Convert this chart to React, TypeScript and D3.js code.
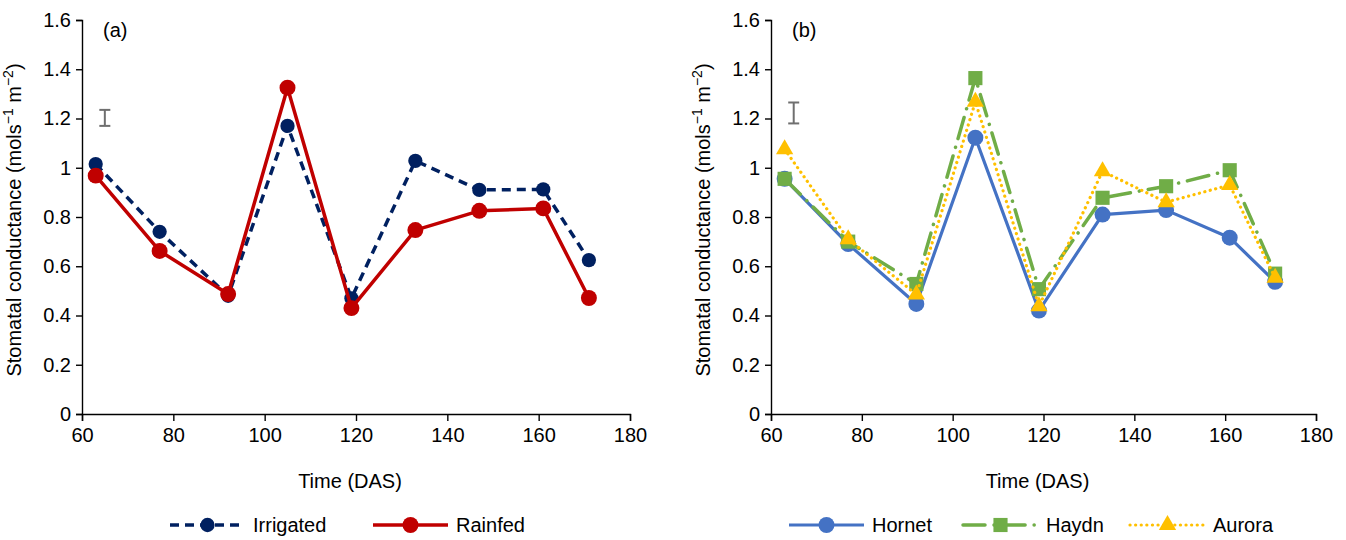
import React, { useEffect, useRef } from 'react';
import * as d3 from 'd3';

// Days after sowing (DAS) at which conductance was measured
const das = [63, 77, 92, 105, 119, 133, 147, 161, 171];

// Panel (a): water treatment
const irrigated = [1.015, 0.74, 0.48, 1.17, 0.47, 1.028, 0.91, 0.912, 0.625];
const rainfed = [0.968, 0.662, 0.487, 1.325, 0.43, 0.747, 0.825, 0.835, 0.471];

// Panel (b): cultivars
const hornet = [0.955, 0.69, 0.447, 1.122, 0.42, 0.81, 0.828, 0.716, 0.537];
const haydn = [0.955, 0.7, 0.528, 1.364, 0.507, 0.878, 0.925, 0.99, 0.57];
const aurora = [1.075, 0.71, 0.485, 1.268, 0.438, 0.986, 0.86, 0.93, 0.553];

// LSD-style error bars shown in the top-left of each panel
const errA = { x: 65, lo: 1.17, hi: 1.235 };
const errB = { x: 65, lo: 1.18, hi: 1.265 };

const xTicks = [60, 80, 100, 120, 140, 160, 180];
const yTicks = [0, 0.2, 0.4, 0.6, 0.8, 1, 1.2, 1.4, 1.6];
const yTickLabels = ['0', '0.2', '0.4', '0.6', '0.8', '1', '1.2', '1.4', '1.6'];

const W = 1346;
const H = 540;
const FONT = '"Liberation Sans", Arial, Helvetica, sans-serif';
const FS = '20px';

const App = () => {
  const svgRef = useRef(null);

  useEffect(() => {
    const svg = d3.select(svgRef.current);
    svg.selectAll('*').remove();

    const y = d3.scaleLinear().domain([0, 1.6]).range([414, 20]);

    const drawPanel = (x0, x1, label, err, series, legendXs) => {
      const x = d3.scaleLinear().domain([60, 180]).range([x0, x1]);
      const g = svg.append('g');

      // y axis
      const ya = g.append('g')
        .attr('transform', `translate(${x0},0)`)
        .call(d3.axisLeft(y).tickValues(yTicks).tickSize(6).tickPadding(5)
          .tickFormat((d, i) => yTickLabels[i]));
      // x axis
      const xa = g.append('g')
        .attr('transform', `translate(0,${y(0)})`)
        .call(d3.axisBottom(x).tickValues(xTicks).tickSize(7).tickPadding(7));

      [ya, xa].forEach(a => {
        a.selectAll('path, line').attr('stroke', '#000').attr('stroke-width', 1.4);
        a.selectAll('text')
          .style('font-family', FONT)
          .style('font-size', FS)
          .attr('fill', '#000');
      });

      // panel label
      g.append('text')
        .attr('x', x0 + 21)
        .attr('y', 37)
        .style('font-family', FONT)
        .style('font-size', FS)
        .text(label);

      // x title
      g.append('text')
        .attr('x', (x0 + x1) / 2 - 6)
        .attr('y', 488)
        .attr('text-anchor', 'middle')
        .style('font-family', FONT)
        .style('font-size', FS)
        .text('Time (DAS)');

      // y title with superscripts
      const yt = g.append('text')
        .attr('transform', `translate(${x0 - 61},${(y(0) + y(1.6)) / 2 + 3}) rotate(-90)`)
        .attr('text-anchor', 'middle')
        .style('font-family', FONT)
        .style('font-size', FS);
      yt.append('tspan').text('Stomatal conductance (mols');
      yt.append('tspan').attr('dy', -8).style('font-size', '14px').text('\u22121');
      yt.append('tspan').attr('dy', 8).text(' m');
      yt.append('tspan').attr('dy', -8).style('font-size', '14px').text('\u22122');
      yt.append('tspan').attr('dy', 8).text(')');

      // error bar
      const ex = x(err.x);
      const eg = g.append('g').attr('stroke', '#6f6f6f').attr('stroke-width', 2);
      eg.append('line').attr('x1', ex).attr('x2', ex).attr('y1', y(err.lo)).attr('y2', y(err.hi));
      eg.append('line').attr('x1', ex - 5.5).attr('x2', ex + 5.5).attr('y1', y(err.lo)).attr('y2', y(err.lo));
      eg.append('line').attr('x1', ex - 5.5).attr('x2', ex + 5.5).attr('y1', y(err.hi)).attr('y2', y(err.hi));

      const line = d3.line().x(d => x(d[0])).y(d => y(d[1]));

      const drawMarker = (sel, s, cx, cy) => sel.append('path')
        .attr('d', d3.symbol().type(s.marker).size(s.size)())
        .attr('transform', `translate(${cx},${cy})`)
        .attr('fill', s.color);

      series.forEach(s => {
        const pts = das.map((d, i) => [d, s.values[i]]);
        g.append('path')
          .datum(pts)
          .attr('d', line)
          .attr('fill', 'none')
          .attr('stroke', s.color)
          .attr('stroke-width', s.width)
          .attr('stroke-dasharray', s.dash)
          .attr('stroke-linecap', s.cap)
          .attr('stroke-linejoin', 'round');
        pts.forEach(p => drawMarker(g, s, x(p[0]), y(p[1])));
      });

      // legend
      series.forEach((s, i) => {
        const lx = legendXs[i];
        const ly = 525;
        g.append('line')
          .attr('x1', lx).attr('x2', lx + 75)
          .attr('y1', ly).attr('y2', ly)
          .attr('stroke', s.color)
          .attr('stroke-width', s.width)
          .attr('stroke-dasharray', s.dash)
          .attr('stroke-linecap', s.cap);
        drawMarker(g, s, lx + 37.5, ly);
        g.append('text')
          .attr('x', lx + 83)
          .attr('y', ly + 7)
          .style('font-family', FONT)
          .style('font-size', FS)
          .text(s.name);
      });
    };

    drawPanel(82, 630, '(a)', errA, [
      { name: 'Irrigated', values: irrigated, color: '#002060', width: 3.5, dash: '9,6', cap: 'butt', marker: d3.symbolCircle, size: 160 },
      { name: 'Rainfed', values: rainfed, color: '#C00000', width: 3.5, dash: null, cap: 'butt', marker: d3.symbolCircle, size: 200 },
    ], [170, 373]);

    drawPanel(771, 1316, '(b)', errB, [
      { name: 'Hornet', values: hornet, color: '#4472C4', width: 3.2, dash: null, cap: 'butt', marker: d3.symbolCircle, size: 200 },
      { name: 'Haydn', values: haydn, color: '#70AD47', width: 3.5, dash: '22,9,0.1,9', cap: 'round', marker: d3.symbolSquare, size: 200 },
      { name: 'Aurora', values: aurora, color: '#FFC000', width: 3.2, dash: '0.1,5.5', cap: 'round', marker: d3.symbolTriangle, size: 130 },
    ], [789, 963, 1130]);
  }, []);

  return (
    <svg
      ref={svgRef}
      width={W}
      height={H}
      style={{ position: 'absolute', left: 0, top: 0, display: 'block', background: '#fff' }}
    />
  );
};

export default App;
